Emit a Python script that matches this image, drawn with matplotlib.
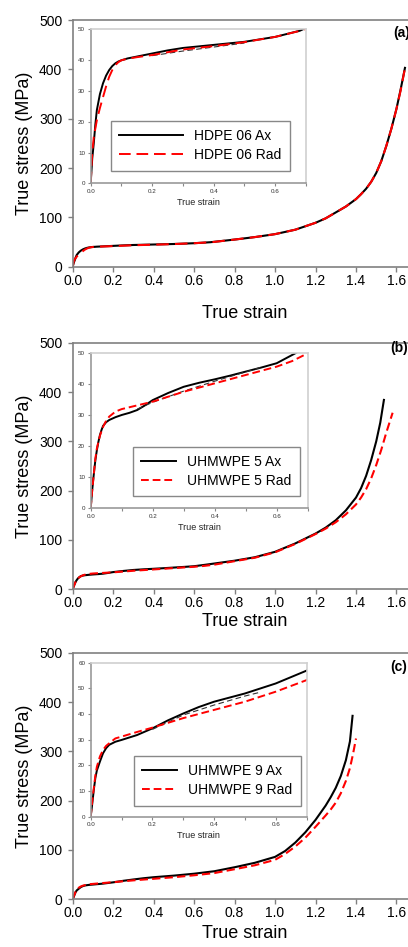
import matplotlib
matplotlib.use('Agg')
import matplotlib.pyplot as plt
from matplotlib.ticker import MultipleLocator

plt.rcParams['font.family'] = ['Liberation Sans', 'DejaVu Sans']

# ---------------- data ----------------
# Panel (a) HDPE 06
a_ax_strain = [0, 0.005, 0.01, 0.015, 0.02, 0.03, 0.04, 0.05, 0.06, 0.07, 0.08, 0.09, 0.10, 0.12, 0.15,
               0.20, 0.25, 0.30, 0.40, 0.50, 0.60, 0.68, 0.80, 0.90, 1.00, 1.10, 1.20, 1.25, 1.30, 1.35,
               1.40, 1.425, 1.45, 1.475, 1.50, 1.525, 1.55, 1.575, 1.60, 1.62, 1.642]
a_ax_stress = [0, 8, 13, 19, 23.8, 29, 32.5, 35, 36.8, 38.1, 39, 39.6, 40, 40.6, 41.2,
               42.2, 43.2, 44, 45, 46, 47.6, 49.6, 55, 60, 66, 75, 89, 98, 110, 122,
               137, 147, 158, 172, 190, 214, 245, 280, 320, 358, 403]
a_rad_strain = [0, 0.005, 0.01, 0.02, 0.03, 0.04, 0.05, 0.06, 0.07, 0.08, 0.09, 0.10, 0.12, 0.15,
                0.20, 0.30, 0.40, 0.50, 0.60, 0.69, 0.80, 0.90, 1.00, 1.10, 1.20, 1.25, 1.30, 1.35,
                1.40, 1.425, 1.45, 1.475, 1.50, 1.525, 1.55, 1.575, 1.60, 1.62, 1.64]
a_rad_stress = [0, 10, 15, 20.5, 24.5, 28, 31.5, 34.6, 36.8, 38.4, 39.4, 40, 40.5, 41,
                41.7, 43.5, 44.6, 45.9, 47.6, 49.8, 55, 60, 66, 75, 89, 98, 110, 122,
                137, 147, 158, 172, 190, 214, 245, 280, 320, 356, 398]
a_rep_strain = [0.20, 0.30, 0.40, 0.50]
a_rep_stress = [41.5, 43.0, 44.3, 45.6]

# Panel (b) UHMWPE 5
b_ax_strain = [0, 0.005, 0.01, 0.015, 0.02, 0.025, 0.03, 0.035, 0.04, 0.05, 0.06, 0.08, 0.10, 0.125,
               0.15, 0.175, 0.20, 0.25, 0.30, 0.35, 0.40, 0.45, 0.50, 0.55, 0.60, 0.66,
               0.80, 0.90, 1.00, 1.10, 1.20, 1.25, 1.30, 1.35, 1.40, 1.425, 1.45, 1.475, 1.50, 1.52, 1.538]
b_ax_stress = [0, 6, 11, 15.5, 18.8, 21.5, 23.7, 25.3, 26.6, 27.8, 28.5, 29.4, 30.1, 30.8,
               31.7, 33.2, 34.9, 37.2, 39.2, 40.5, 41.6, 42.8, 44.1, 45.4, 46.8, 50,
               58, 65, 76, 93, 113, 125, 140, 160, 186, 205, 230, 262, 300, 338, 384]
b_rad_strain = [0, 0.005, 0.01, 0.015, 0.02, 0.03, 0.04, 0.05, 0.06, 0.08, 0.10, 0.15, 0.20, 0.30,
                0.40, 0.50, 0.60, 0.65, 0.70, 0.80, 0.90, 1.00, 1.10, 1.20, 1.25, 1.30, 1.35, 1.40,
                1.425, 1.45, 1.475, 1.50, 1.525, 1.55, 1.581]
b_rad_stress = [0, 6, 11, 16, 19.4, 23.5, 26.3, 28.3, 29.6, 31.2, 32, 33.2, 34.4, 37.6,
                40.3, 43, 45.7, 47.5, 50, 57, 64, 75, 92, 112, 123, 136, 152, 172,
                186, 203, 225, 252, 283, 318, 358]
b_rep_strain = [0.15, 0.20, 0.30, 0.40, 0.50, 0.55]
b_rep_stress = [32.0, 34.2, 37.8, 41.0, 44.0, 45.5]

# Panel (c) UHMWPE 9
c_ax_strain = [0, 0.005, 0.01, 0.015, 0.02, 0.03, 0.04, 0.05, 0.06, 0.08, 0.10, 0.15, 0.20, 0.25,
               0.30, 0.35, 0.40, 0.50, 0.60, 0.70, 0.80, 0.90, 1.00, 1.05, 1.10, 1.15, 1.20, 1.25,
               1.275, 1.30, 1.325, 1.35, 1.37, 1.383]
c_ax_stress = [0, 5, 10.4, 15, 18, 21.5, 24.7, 26.7, 28, 29.2, 29.9, 31.8, 34.4, 37.5,
               40.2, 42.7, 44.8, 48, 51.9, 56.9, 65, 74, 86, 98, 115, 136, 161, 190,
               207, 226, 250, 282, 320, 372]
c_rad_strain = [0, 0.005, 0.01, 0.015, 0.02, 0.03, 0.04, 0.05, 0.06, 0.08, 0.10, 0.15, 0.20, 0.30,
                0.40, 0.50, 0.60, 0.70, 0.80, 0.90, 1.00, 1.05, 1.10, 1.15, 1.20, 1.25, 1.275, 1.30,
                1.325, 1.35, 1.37, 1.385, 1.40]
c_rad_stress = [0, 6, 11, 16, 19.5, 23.5, 26, 27.6, 28.6, 30.5, 31.2, 33, 34.7, 38.4,
                41.6, 44.8, 48.7, 53.2, 61, 69, 80, 92, 107, 125, 147, 170, 182, 196,
                215, 240, 266, 294, 326]
c_rep_strain = [0.20, 0.30, 0.40, 0.50, 0.55]
c_rep_stress = [34.0, 39.6, 43.5, 47.0, 48.5]

labels_a = ['HDPE 06 Ax', 'HDPE 06 Rad']
labels_b = ['UHMWPE 5 Ax', 'UHMWPE 5 Rad']
labels_c = ['UHMWPE 9 Ax', 'UHMWPE 9 Rad']
panel_tags = ['(a)', '(b)', '(c)']
main_xticks = [0.0, 0.2, 0.4, 0.6, 0.8, 1.0, 1.2, 1.4, 1.6]
main_yticks = [0, 100, 200, 300, 400, 500]

# ---------------- layout ----------------
W, H = 408, 947
fig = plt.figure(figsize=(W / 100, H / 100), dpi=100)


def rect(left, top, right, bottom):
    return [left / W, 1 - bottom / H, (right - left) / W, (bottom - top) / H]


panels = [
    dict(main=(72.7, 20.0, 416.7, 266.7), inset=(90.7, 29.5, 306.0, 183.3),
         ax=(a_ax_strain, a_ax_stress), rad=(a_rad_strain, a_rad_stress), rep=(a_rep_strain, a_rep_stress),
         labels=labels_a, dashes=(6, 3), hl=4.6, leg=(111, 121), inset_ymax=50, xlab_off=38, tag_off=12.7,
         tag_x=1.583),
    dict(main=(72.7, 342.7, 416.7, 589.3), inset=(90.7, 353.3, 307.7, 508.3),
         ax=(b_ax_strain, b_ax_stress), rad=(b_rad_strain, b_rad_stress), rep=(b_rep_strain, b_rep_stress),
         labels=labels_b, dashes=(4, 2), hl=2.5, leg=(133, 446.7), inset_ymax=50, xlab_off=23.5, tag_off=5.5,
         tag_x=1.569),
    dict(main=(72.7, 652.7, 416.7, 899.3), inset=(90.7, 662.7, 306.5, 816.7),
         ax=(c_ax_strain, c_ax_stress), rad=(c_rad_strain, c_rad_stress), rep=(c_rep_strain, c_rep_stress),
         labels=labels_c, dashes=(4, 2), hl=2.5, leg=(134, 756), inset_ymax=60, xlab_off=25.5, tag_off=14,
         tag_x=1.569),
]

spine_gray = '#808080'
for i, p in enumerate(panels):
    l, t, r, b = p['main']
    ax = fig.add_axes(rect(l, t, r, b))
    ax.plot(*p['ax'], color='black', lw=1.5, solid_joinstyle='round')
    ax.plot(*p['rad'], color='red', lw=1.5, linestyle=(0, p['dashes']))
    ax.set_xlim(0, 1.7)
    ax.set_ylim(0, 500)
    ax.set_xticks(main_xticks)
    ax.set_yticks(main_yticks)
    ax.set_xticklabels([f'{v:.1f}' for v in main_xticks])
    ax.tick_params(direction='out', length=3.5, width=1, color=spine_gray, labelsize=10)
    ax.tick_params(axis='x', pad=1.5)
    ax.tick_params(axis='y', pad=4)
    for s in ax.spines.values():
        s.set_color(spine_gray)
        s.set_linewidth(1.2)
    ax.set_ylabel('True stress (MPa)', fontsize=13)
    ax.yaxis.set_label_coords((33 - l) / (r - l), 0.5)
    ax.set_xlabel('True strain', fontsize=13)
    ax.xaxis.set_label_coords((244.7 - l) / (r - l), -p['xlab_off'] / (b - t))
    ax.text(p['tag_x'], 500 - p['tag_off'] / (b - t) * 500, panel_tags[i], fontsize=10, fontweight='bold',
            ha='left', va='center')

    # inset
    il, it, ir, ib = p['inset']
    ins = fig.add_axes(rect(il, it, ir, ib))
    ins.plot(*p['ax'], color='black', lw=1.4, solid_joinstyle='round')
    ins.plot(*p['rep'], color='#333333', lw=0.8, linestyle=(0, (5, 3)))
    ins.plot(*p['rad'], color='red', lw=1.4, linestyle=(0, p['dashes']))
    ins.set_xlim(0, 0.7)
    ins.set_ylim(0, p['inset_ymax'])
    ins.xaxis.set_major_locator(MultipleLocator(0.2))
    ins.xaxis.set_minor_locator(MultipleLocator(0.1))
    ins.yaxis.set_major_locator(MultipleLocator(10))
    ins.set_xticklabels([f'{v:.1f}' for v in ins.get_xticks()])
    ins.tick_params(which='both', direction='out', length=2, width=0.8, color='#888888',
                    labelsize=4.5, labelcolor='#333333', pad=2)
    ins.spines['left'].set_color('#999999')
    ins.spines['bottom'].set_color('#999999')
    ins.spines['top'].set_color('#d0d0d0')
    ins.spines['right'].set_color('#d0d0d0')
    for s in ins.spines.values():
        s.set_linewidth(1.2)
    ins.set_xlabel('True strain', fontsize=6.5, color='#222222', labelpad=3)

    leg_l, leg_t = p['leg']
    handles = ins.get_lines()
    legend = ins.legend([handles[0], handles[2]], p['labels'], loc='upper left',
                        bbox_to_anchor=(leg_l / W, 1 - leg_t / H), bbox_transform=fig.transFigure,
                        borderaxespad=0, fontsize=10, handlelength=p['hl'], handletextpad=0.8,
                        labelspacing=0.35, borderpad=0.6, fancybox=False, framealpha=1,
                        edgecolor='#888888')
    legend.get_frame().set_linewidth(1.0)

fig.savefig('out.png', dpi=100)
